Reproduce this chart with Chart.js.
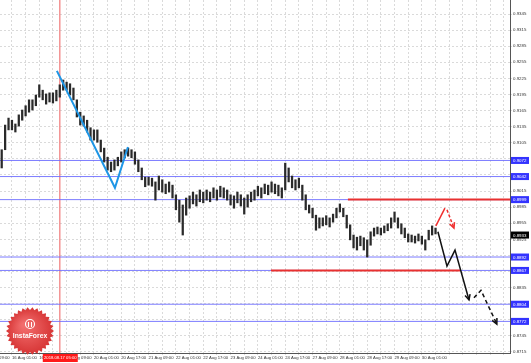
<!DOCTYPE html>
<html><head><meta charset="utf-8">
<script src="https://cdn.jsdelivr.net/npm/chart.js@4/dist/chart.umd.min.js"></script>
<style>html,body{margin:0;padding:0;background:#fff;overflow:hidden}</style>
</head><body><canvas id="c" width="531" height="363"></canvas>
<script>
// ---- data (2-hour bars, hour index from 16 Aug 01:00) ----
const highs = [0.9092,0.9138,0.9151,0.9147,0.9140,0.9157,0.9166,0.9174,0.9185,0.9185,
0.9194,0.9213,0.9203,0.9196,0.9198,0.9198,0.9203,0.9213,0.9222,0.9218,
0.9215,0.9207,0.9185,0.9162,0.9155,0.9147,0.9133,0.9129,0.9129,0.9110,
0.9095,0.9078,0.9069,0.9073,0.9078,0.9088,0.9092,0.9095,0.9092,0.9088,
0.9073,0.9058,0.9041,0.9041,0.9039,0.9032,0.9043,0.9036,0.9028,0.9032,
0.9026,0.9008,0.8998,0.8989,0.9002,0.9006,0.9013,0.9008,0.9017,0.9013,
0.9017,0.9013,0.9021,0.9017,0.9024,0.9021,0.9017,0.9008,0.9006,0.9013,
0.9008,0.9002,0.9008,0.9013,0.9017,0.9024,0.9021,0.9028,0.9026,0.9032,
0.9028,0.9026,0.9021,0.9067,0.9058,0.9043,0.9036,0.9039,0.9026,0.9008,
0.8989,0.8983,0.8970,0.8965,0.8965,0.8969,0.8965,0.8972,0.8983,0.8991,
0.8983,0.8970,0.8952,0.8933,0.8929,0.8931,0.8928,0.8924,0.8939,0.8946,
0.8948,0.8946,0.8950,0.8954,0.8965,0.8976,0.8965,0.8954,0.8946,0.8935,
0.8933,0.8931,0.8935,0.8931,0.8924,0.8942,0.8950,0.8946];
const lows = [0.9058,0.9092,0.9129,0.9129,0.9125,0.9136,0.9147,0.9155,0.9162,0.9166,
0.9174,0.9190,0.9185,0.9177,0.9181,0.9179,0.9183,0.9190,0.9203,0.9203,
0.9194,0.9185,0.9153,0.9138,0.9136,0.9125,0.9110,0.9110,0.9106,0.9088,
0.9069,0.9054,0.9051,0.9054,0.9062,0.9069,0.9077,0.9080,0.9077,0.9065,
0.9051,0.9036,0.9023,0.9026,0.9024,0.8998,0.9017,0.9013,0.9010,0.9013,
0.9002,0.8980,0.8957,0.8933,0.8970,0.8983,0.8991,0.8987,0.8995,0.8993,
0.8998,0.8995,0.9002,0.8998,0.9004,0.9002,0.8998,0.8989,0.8983,0.8993,
0.8987,0.8972,0.8985,0.8995,0.8998,0.9006,0.9002,0.9010,0.9008,0.9013,
0.9010,0.9006,0.9002,0.9017,0.9032,0.9021,0.9017,0.9021,0.8998,0.8980,
0.8974,0.8965,0.8942,0.8946,0.8950,0.8952,0.8948,0.8957,0.8965,0.8976,
0.8967,0.8946,0.8924,0.8909,0.8905,0.8913,0.8905,0.8892,0.8914,0.8931,
0.8935,0.8933,0.8937,0.8941,0.8946,0.8957,0.8946,0.8935,0.8928,0.8920,
0.8920,0.8918,0.8922,0.8916,0.8905,0.8924,0.8933,0.8935];
const yTicks = [0.8715,0.8745,0.8775,0.8805,0.8835,0.8865,0.8895,0.8925,0.8955,0.8985,0.9015,0.9045,0.9075,0.9105,0.9135,0.9165,0.9195,0.9225,0.9255,0.9285,0.9315,0.9345];
const xTickHours = [-16,0,16,32,48,64,80,96,112,128,144,160,176,192,208,224,240];
const xTickLabels = ['15 Aug 09:00','16 Aug 01:00','16 Aug 17:00','17 Aug 09:00','20 Aug 01:00','20 Aug 17:00','21 Aug 09:00','22 Aug 01:00','22 Aug 17:00','23 Aug 09:00','24 Aug 01:00','24 Aug 17:00','27 Aug 09:00','28 Aug 01:00','28 Aug 17:00','29 Aug 09:00','30 Aug 01:00'];
const blueLevels = [0.9072,0.9042,0.8999,0.8892,0.8867,0.8804,0.8772];
const redLevels = [0.8999,0.8867];
const redLevelSpans = [[196.7,291.6],[151.6,262.3]];
const currentPrice = 0.8933;
const markerHour = 28;
const markerLabel = '2018.08.17 05:00';
const blueZigzag = [[26.3,0.9239],[60.3,0.9021],[67.9,0.9097]];
const redUp = [[248.2,0.8950],[253.5,0.8983]];
const redDown = [[254.7,0.8980],[258.8,0.8946]];
const blackSolid = [[249.4,0.8939],[254.7,0.8875],[259.4,0.8905],[267.6,0.8812]];
const blackDashed = [[270.5,0.8816],[274.6,0.8830],[283.9,0.8767]];

const XMIN = -7.0, XMAX = 291.6, YMIN = 0.87131, YMAX = 0.93711;
const FONT = 'Liberation Sans, Arial, sans-serif';
const pts = a => a.map(p => ({x:p[0], y:p[1]}));

const datasets = [];
blueLevels.forEach(p => datasets.push({type:'line', order:10, data:[{x:XMIN,y:p},{x:XMAX,y:p}], borderColor:'rgba(110,110,255,0.9)', borderWidth:1, pointRadius:0}));
redLevels.forEach((p,k) => datasets.push({type:'line', order:9, data:[{x:redLevelSpans[k][0],y:p},{x:redLevelSpans[k][1],y:p}], borderColor:'#e83030', borderWidth:2, pointRadius:0}));
datasets.push({type:'bar', order:8, data: highs.map((h,i)=>({x:2*i-6, y:[lows[i],h]})), backgroundColor:'#2a2a2a', barThickness:1.6, borderWidth:0});
datasets.push({type:'line', order:2, data:pts(blueZigzag), borderColor:'#1e96e6', borderWidth:2, pointRadius:0});
datasets.push({type:'line', order:1, data:pts(redUp), borderColor:'#f03030', borderWidth:1.5, pointRadius:0});
datasets.push({type:'line', order:1, data:pts(redDown), borderColor:'#f03030', borderWidth:1.5, borderDash:[3,2], pointRadius:0, arrow:true});
datasets.push({type:'line', order:1, data:pts(blackSolid), borderColor:'#111', borderWidth:1.5, pointRadius:0, arrow:true});
datasets.push({type:'line', order:1, data:pts(blackDashed), borderColor:'#111', borderWidth:1.5, borderDash:[4,3], pointRadius:0, arrow:true});

const overlay = {
  id:'overlay',
  beforeDatasetsDraw(chart){
    const {ctx, chartArea:a, scales:{x}} = chart;
    const px = x.getPixelForValue(markerHour);
    ctx.save(); ctx.strokeStyle='rgba(240,120,120,0.8)'; ctx.lineWidth=1.5;
    ctx.beginPath(); ctx.moveTo(px,a.top); ctx.lineTo(px,a.bottom); ctx.stroke(); ctx.restore();
  },
  afterDatasetsDraw(chart){
    const ctx = chart.ctx;
    chart.data.datasets.forEach((ds,i)=>{
      if(!ds.arrow) return;
      const m = chart.getDatasetMeta(i).data; const n=m.length;
      const p1=m[n-2], p2=m[n-1];
      const ang=Math.atan2(p2.y-p1.y,p2.x-p1.x), L=6;
      ctx.save(); ctx.strokeStyle=ds.borderColor; ctx.lineWidth=1.5;
      ctx.beginPath();
      ctx.moveTo(p2.x-L*Math.cos(ang-0.45), p2.y-L*Math.sin(ang-0.45));
      ctx.lineTo(p2.x,p2.y);
      ctx.lineTo(p2.x-L*Math.cos(ang+0.45), p2.y-L*Math.sin(ang+0.45));
      ctx.stroke(); ctx.restore();
    });
  },
  afterDraw(chart){
    const {ctx, chartArea:a, scales:{x,y}} = chart;
    ctx.save();
    ctx.font = '4.4px '+FONT; ctx.textBaseline='middle'; ctx.textAlign='left';
    const box = (p,bg) => {
      const py = y.getPixelForValue(p);
      ctx.fillStyle=bg; ctx.fillRect(a.right+1, py-3.5, 18, 7);
      ctx.fillStyle='#fff'; ctx.fillText(p.toFixed(4), a.right+3, py+0.3);
    };
    blueLevels.forEach(p=>box(p,'#3333ff'));
    box(currentPrice,'#000');
    // time marker box
    const px = x.getPixelForValue(markerHour);
    ctx.fillStyle='#ff1a1a'; ctx.fillRect(px-17, a.bottom+1, 35, 8);
    ctx.fillStyle='#fff'; ctx.textAlign='center'; ctx.font = '4.2px '+FONT; ctx.fillText(markerLabel, px+0.5, a.bottom+5.3);
    // logo
    const cx=30, cy=331, r=24, n=30;
    ctx.beginPath();
    for(let k=0;k<2*n;k++){const an=k*Math.PI/n; const rr=k%2? r*0.88:r; ctx.lineTo(cx+rr*Math.cos(an), cy+rr*Math.sin(an));}
    ctx.closePath();
    const g=ctx.createRadialGradient(cx-6,cy-6,2,cx,cy,r);
    g.addColorStop(0,'#f26d6d'); g.addColorStop(1,'#d63434');
    ctx.fillStyle=g; ctx.fill();
    ctx.strokeStyle='#fff'; ctx.lineWidth=1.1;
    ctx.beginPath(); ctx.arc(cx,cy-7,4.5,0,2*Math.PI); ctx.stroke();
    ctx.beginPath(); ctx.moveTo(cx-1.5,cy-4); ctx.lineTo(cx-1.5,cy-9); ctx.moveTo(cx+1.5,cy-4); ctx.lineTo(cx+1.5,cy-9); ctx.stroke();
    ctx.fillStyle='#fff'; ctx.font='bold 6.8px '+FONT; ctx.textAlign='center';
    ctx.fillText('InstaForex', cx, cy+5);
    ctx.restore();
  }
};

new Chart(document.getElementById('c'), {
  type:'bar',
  data:{datasets},
  options:{
    responsive:false, animation:false, devicePixelRatio:1,
    layout:{padding:0},
    plugins:{legend:{display:false}, tooltip:{enabled:false}},
    scales:{
      x:{type:'linear', min:XMIN, max:XMAX, offset:false, position:'bottom',
        grid:{color:'#dadada', lineWidth:1, tickLength:2, offset:false},
        border:{color:'#555', dash:[2,2]},
        ticks:{autoSkip:false, maxRotation:0, align:'start', padding:0, color:'#333', font:{size:4.2, family:FONT},
          callback:(v)=>{const k=xTickHours.indexOf(v); return k>=0? xTickLabels[k] : '';}},
        afterBuildTicks:s=>{const t=[]; for(let h=-16; h<=288; h+=8) t.push({value:h}); s.ticks=t;},
        afterFit:s=>{s.height=10; s.paddingLeft=0; s.paddingRight=0;}
      },
      y:{type:'linear', position:'right', min:YMIN, max:YMAX,
        grid:{color:'#dadada', lineWidth:1, tickLength:2},
        border:{color:'#555', dash:[2,2]},
        ticks:{padding:1, color:'#333', font:{size:4.4, family:FONT}, callback:v=>v.toFixed(4)},
        afterBuildTicks:s=>{s.ticks=yTicks.map(v=>({value:v}));},
        afterFit:s=>{s.width=21; s.paddingTop=0; s.paddingBottom=0;}
      }
    }
  },
  plugins:[overlay]
});
</script></body></html>
